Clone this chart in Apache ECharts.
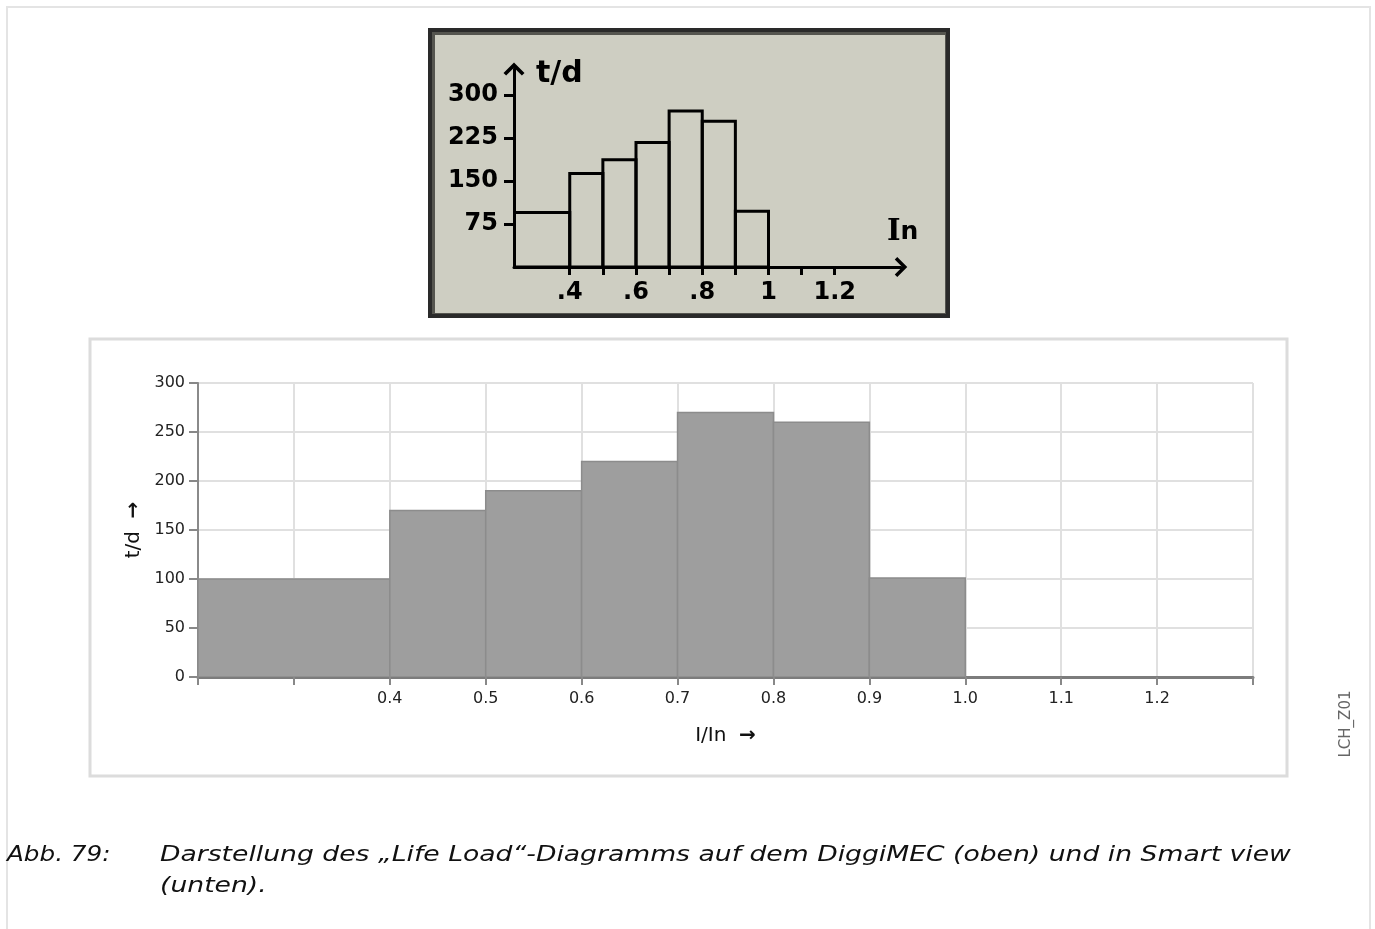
<!DOCTYPE html>
<html>
<head>
<meta charset="utf-8">
<script src="https://cdn.jsdelivr.net/npm/echarts@6/dist/echarts.min.js"></script>
<style>
  html, body { margin: 0; padding: 0; background: #fff; }
  #main { width: 1375px; height: 929px; }
</style>
</head>
<body>
<div id="main"></div>
<script>
// bin edges (I/In) shared by both histograms
var binEdges = [0.2, 0.4, 0.5, 0.6, 0.7, 0.8, 0.9, 1.0];
// DiggiMEC display (top)
var lcdValues = [95, 163, 187, 217, 272, 254, 97];
var lcdYTicks = [75, 150, 225, 300];
var lcdXTicks = [0.4, 0.5, 0.6, 0.7, 0.8, 0.9, 1.0, 1.1, 1.2];
var lcdXLabelValues = [0.4, 0.6, 0.8, 1.0, 1.2];
var lcdXLabels = ['.4', '.6', '.8', '1', '1.2'];
// Smart view (bottom)
var smartValues = [100, 170, 190, 220, 270, 260, 101];
var smartXLabelValues = [0.4, 0.5, 0.6, 0.7, 0.8, 0.9, 1.0, 1.1, 1.2];

var captionLabel = 'Abb. 79:';
var captionLines = ['Darstellung des \u201ELife Load\u201C-Diagramms auf dem DiggiMEC (oben) und in Smart view', '(unten).'];

function toBins(values) {
    var out = [];
    for (var i = 0; i < values.length; i++) {
        out.push([binEdges[i], binEdges[i + 1], values[i]]);
    }
    return out;
}

function rectItem(style) {
    return function (params, api) {
        var p0 = api.coord([api.value(0), api.value(2)]);
        var p1 = api.coord([api.value(1), 0]);
        return {
            type: 'rect',
            shape: { x: p0[0], y: p0[1], width: p1[0] - p0[0], height: p1[1] - p0[1] },
            style: style
        };
    };
}

// open chevron arrow head, tip up
var chevron = 'path://M10,0 L20,10 L17.5,12.5 L10,5 L2.5,12.5 L0,10 Z';
var captionStyle = { fontFamily: 'DejaVu Sans', fontStyle: 'italic', fontSize: 22, fill: '#111', textVerticalAlign: 'middle' };

var myChart = echarts.init(document.getElementById('main'));
myChart.setOption({
    animation: false,
    grid: [
        { left: 514, top: 69, right: 474, bottom: 662 },
        { left: 198, top: 383, right: 122, bottom: 252 }
    ],
    xAxis: [
        {
            gridIndex: 0,
            type: 'value',
            min: 0.2317,
            max: 1.40,
            z: 5,
            axisLine: { show: true, symbol: ['none', chevron], symbolSize: [20, 15], lineStyle: { color: '#000', width: 3 } },
            axisTick: { show: true, length: 8, customValues: lcdXTicks, lineStyle: { color: '#000', width: 3 } },
            axisLabel: {
                show: true, margin: 14, customValues: lcdXLabelValues,
                fontFamily: 'DejaVu Sans', fontWeight: 'bold', fontSize: 24, color: '#000',
                formatter: function (v) {
                    for (var i = 0; i < lcdXLabelValues.length; i++) {
                        if (Math.abs(lcdXLabelValues[i] - v) < 1e-6) return lcdXLabels[i];
                    }
                    return '';
                }
            },
            splitLine: { show: false }
        },
        {
            gridIndex: 1,
            type: 'value',
            min: 0.2,
            max: 1.3,
            interval: 0.1,
            name: 'I/In  {a|\u2192}',
            nameLocation: 'middle',
            nameGap: 49,
            nameTextStyle: {
                fontFamily: 'DejaVu Sans', fontSize: 20, color: '#111',
                rich: { a: { fontFamily: 'DejaVu Sans', fontSize: 20, fontWeight: 'bold', color: '#111' } }
            },
            axisLine: { show: true, lineStyle: { color: '#7c7c7c', width: 3 } },
            axisTick: { show: true, length: 8, lineStyle: { color: '#888', width: 2 } },
            axisLabel: {
                margin: 14, fontFamily: 'DejaVu Sans', fontSize: 16, color: '#222',
                formatter: function (v) {
                    if (v < smartXLabelValues[0] - 1e-6 || v > smartXLabelValues[smartXLabelValues.length - 1] + 1e-6) return '';
                    return v.toFixed(1);
                }
            },
            splitLine: { show: true, lineStyle: { color: '#e0e0e0', width: 2 } }
        }
    ],
    yAxis: [
        {
            gridIndex: 0,
            type: 'value',
            min: 0,
            max: 345,
            z: 5,
            axisLine: { show: true, symbol: ['none', chevron], symbolSize: [21, 16], lineStyle: { color: '#000', width: 3 } },
            axisTick: { show: true, length: 10, customValues: lcdYTicks, lineStyle: { color: '#000', width: 3 } },
            axisLabel: {
                show: true, margin: 16, customValues: lcdYTicks,
                fontFamily: 'DejaVu Sans', fontWeight: 'bold', fontSize: 24, color: '#000',
                padding: [4, 0, 0, 0]
            },
            splitLine: { show: false }
        },
        {
            gridIndex: 1,
            type: 'value',
            min: 0,
            max: 300,
            interval: 50,
            name: 't/d  {a|\u2192}',
            nameLocation: 'middle',
            nameGap: 47,
            nameTextStyle: {
                fontFamily: 'DejaVu Sans', fontSize: 20, color: '#111',
                rich: { a: { fontFamily: 'DejaVu Sans', fontSize: 20, fontWeight: 'bold', color: '#111' } }
            },
            axisLine: { show: true, lineStyle: { color: '#8a8a8a', width: 2 } },
            axisTick: { show: true, length: 9, lineStyle: { color: '#888', width: 2 } },
            axisLabel: { margin: 13, fontFamily: 'DejaVu Sans', fontSize: 16, color: '#222' },
            splitLine: { show: true, lineStyle: { color: '#e0e0e0', width: 2 } }
        }
    ],
    series: [
        {
            type: 'custom',
            xAxisIndex: 0,
            yAxisIndex: 0,
            clip: true,
            z: 3,
            encode: { x: [0, 1], y: 2 },
            data: toBins(lcdValues),
            renderItem: rectItem({ fill: 'rgba(0,0,0,0)', stroke: '#000', lineWidth: 3 })
        },
        {
            type: 'custom',
            xAxisIndex: 1,
            yAxisIndex: 1,
            clip: true,
            encode: { x: [0, 1], y: 2 },
            data: toBins(smartValues),
            renderItem: rectItem({ fill: '#9e9e9e', stroke: '#8c8c8c', lineWidth: 1.5 })
        }
    ],
    graphic: [
        // page frame
        { type: 'rect', z: -20, shape: { x: 7, y: 7, width: 1363, height: 940 }, style: { fill: '#fff', stroke: '#e4e4e4', lineWidth: 2 } },
        // Smart view frame
        { type: 'rect', z: -20, shape: { x: 90, y: 339, width: 1197, height: 437 }, style: { fill: '#fff', stroke: '#dcdcdc', lineWidth: 3 } },
        // DiggiMEC display
        { type: 'rect', z: -20, shape: { x: 428, y: 28, width: 522, height: 290 }, style: { fill: '#2a2a2a' } },
        { type: 'rect', z: -19, shape: { x: 432, y: 32, width: 514, height: 282 }, style: { fill: '#55554f' } },
        { type: 'rect', z: -18, shape: { x: 435, y: 35, width: 510, height: 278 }, style: { fill: '#cecec2' } },
        {
            type: 'text', z: 10, x: 536, y: 74,
            style: { text: 't/d', fontFamily: 'DejaVu Sans', fontWeight: 'bold', fontSize: 30, fill: '#000', textVerticalAlign: 'middle' }
        },
        {
            type: 'text', z: 10, x: 887, y: 232,
            style: {
                text: '{i|I}{n|n}', textVerticalAlign: 'middle',
                rich: {
                    i: { fontFamily: 'DejaVu Serif', fontWeight: 'bold', fontSize: 29, fill: '#000' },
                    n: { fontFamily: 'DejaVu Sans', fontWeight: 'bold', fontSize: 25, fill: '#000' }
                }
            }
        },
        // side tag
        {
            type: 'text', z: 10, x: 1346, y: 724, rotation: Math.PI / 2,
            style: { text: 'LCH_Z01', fontFamily: 'DejaVu Sans', fontSize: 15, fill: '#666', textAlign: 'center', textVerticalAlign: 'middle' }
        },
        // caption (reference glyphs are horizontally wide)
        { type: 'text', z: 10, x: 7, y: 855, scaleX: 1.12, style: Object.assign({ text: captionLabel }, captionStyle) },
        { type: 'text', z: 10, x: 160, y: 855, scaleX: 1.21, style: Object.assign({ text: captionLines[0] }, captionStyle) },
        { type: 'text', z: 10, x: 160, y: 886, scaleX: 1.21, style: Object.assign({ text: captionLines[1] }, captionStyle) }
    ]
});
</script>
</body>
</html>
